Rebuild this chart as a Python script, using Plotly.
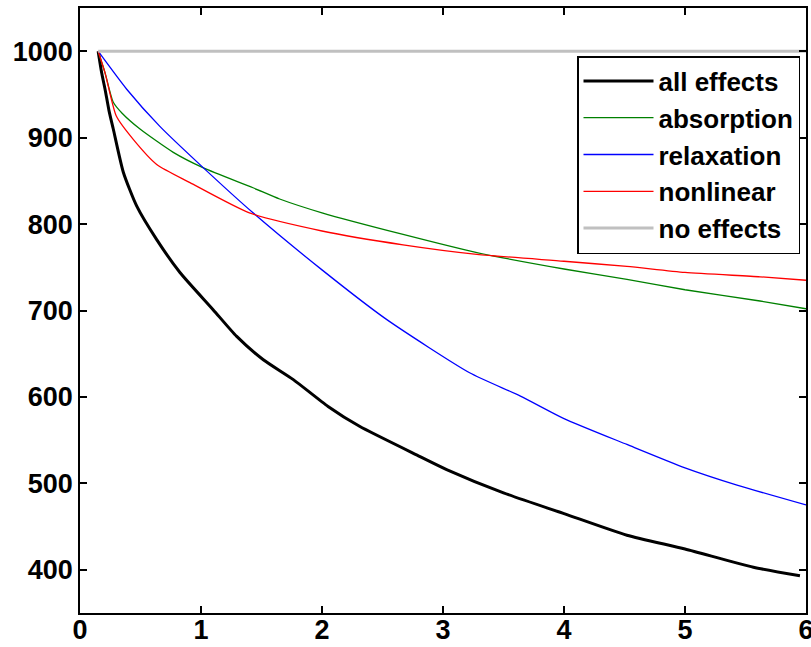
import plotly.graph_objects as go

# ---- data ----
all_x = [0.15, 0.179, 0.207, 0.24, 0.275, 0.358, 0.468, 0.634, 0.826, 1.10, 1.295, 1.515, 1.763, 2.05, 2.31, 2.81, 3.03, 3.5, 4.0, 4.52, 5.0, 5.565, 5.95]
all_y = [1000, 975, 956, 931, 910, 860, 821, 782, 744, 701, 670, 643, 620, 589, 566, 531, 516, 489, 465, 440, 424, 403, 393]

abs_x = [0.15, 0.207, 0.275, 0.35, 0.496, 0.771, 1.02, 1.43, 1.65, 2.0, 2.67, 3.28, 4.0, 4.52, 5.0, 5.62, 6.0]
abs_y = [1000, 975, 941, 928, 910, 883, 865, 842, 829, 813, 788, 767, 748, 736, 724, 711, 702]

rel_x = [0.15, 0.386, 0.66, 1.02, 1.43, 2.0, 2.53, 3.22, 3.64, 4.0, 4.52, 5.0, 5.43, 6.0]
rel_y = [1000, 956, 913, 865, 813, 747, 690, 628, 601, 575, 545, 518, 498, 475]

non_x = [0.15, 0.207, 0.30, 0.44, 0.634, 0.909, 1.40, 2.0, 2.67, 3.28, 4.0, 4.52, 5.0, 5.62, 6.0]
non_y = [1000, 975, 925, 898, 869, 848, 813, 792, 776, 765, 757, 751, 744, 739, 735]

none_x = [0.15, 6.0]
none_y = [1000, 1000]

x_ticks = [0, 1, 2, 3, 4, 5, 6]
y_ticks = [400, 500, 600, 700, 800, 900, 1000]

FONT = "Liberation Sans, Arial, sans-serif"

fig = go.Figure()
fig.add_trace(go.Scatter(x=all_x, y=all_y, mode="lines", name="all effects",
                         line=dict(color="#000000", width=3, shape="spline", smoothing=0.6)))
fig.add_trace(go.Scatter(x=abs_x, y=abs_y, mode="lines", name="absorption",
                         line=dict(color="#008000", width=1.3, shape="spline", smoothing=0.6)))
fig.add_trace(go.Scatter(x=rel_x, y=rel_y, mode="lines", name="relaxation",
                         line=dict(color="#0000ff", width=1.3, shape="spline", smoothing=0.6)))
fig.add_trace(go.Scatter(x=non_x, y=non_y, mode="lines", name="nonlinear",
                         line=dict(color="#ff0000", width=1.3, shape="spline", smoothing=0.6)))
fig.add_trace(go.Scatter(x=none_x, y=none_y, mode="lines", name="no effects",
                         line=dict(color="#c0c0c0", width=3)))

axis_common = dict(showline=True, linecolor="black", linewidth=1.5, mirror="ticks",
                   ticks="inside", ticklen=7, tickwidth=1.5, tickcolor="black",
                   showgrid=False, zeroline=False, ticklabeloverflow="allow",
                   automargin=False,
                   tickfont=dict(family=FONT, size=27, color="black", weight="bold"))

fig.update_xaxes(range=[0, 6], tickvals=x_ticks, ticktext=[str(v) for v in x_ticks],
                 ticklabelstandoff=-8, **axis_common)
fig.update_yaxes(range=[350, 1050], tickvals=y_ticks, ticktext=[str(v) for v in y_ticks], **axis_common)

fig.update_layout(
    template="none",
    width=811, height=647,
    margin=dict(l=80, r=5, t=8, b=34, autoexpand=False),
    paper_bgcolor="white", plot_bgcolor="white",
    showlegend=True,
    legend=dict(x=(800 - 80) / 726, xanchor="right", y=(613 - 56) / 605, yanchor="top",
                bgcolor="white", bordercolor="black", borderwidth=1.5,
                font=dict(family=FONT, size=26, color="black", weight="bold"),
                itemwidth=70, tracegroupgap=0),
)

fig.write_html("out.html")
